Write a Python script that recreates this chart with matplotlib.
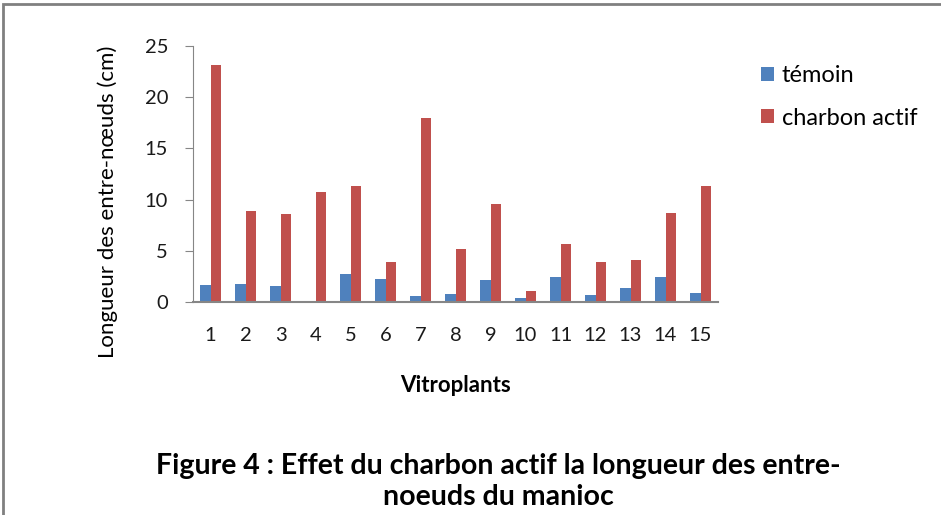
import numpy as np
import matplotlib.pyplot as plt
from matplotlib.patches import Rectangle

# Données
vitroplants = ['1', '2', '3', '4', '5', '6', '7', '8', '9', '10', '11', '12', '13', '14', '15']
temoin = [1.7, 1.8, 1.6, 0.0, 2.7, 2.2, 0.6, 0.8, 2.1, 0.4, 2.4, 0.7, 1.4, 2.4, 0.9]
charbon_actif = [23.1, 8.9, 8.6, 10.7, 11.3, 3.9, 18.0, 5.2, 9.6, 1.1, 5.7, 3.9, 4.1, 8.7, 11.3]

plt.rcParams['font.family'] = ['Lato', 'DejaVu Sans']

fig = plt.figure(figsize=(9.41, 5.15), dpi=100)
ax = fig.add_axes([193 / 941, 1 - 302 / 515, 525 / 941, 256 / 515])

x = np.arange(len(vitroplants))
w = 0.29
ax.bar(x - w / 2, temoin, w, color='#4f81bd', label='témoin')
ax.bar(x + w / 2, charbon_actif, w, color='#c0504d', label='charbon actif')

ax.set_xlim(-0.5, len(vitroplants) - 0.5)
ax.set_ylim(0, 25)
ax.set_yticks([0, 5, 10, 15, 20, 25])
ax.set_xticks(x)
ax.set_xticklabels(vitroplants)

for s in ['top', 'right']:
    ax.spines[s].set_visible(False)
ax.spines['left'].set_color('#868686')
ax.spines['bottom'].set_color('#868686')
ax.spines['bottom'].set_linewidth(1.5)
ax.tick_params(axis='y', length=6, color='#868686', pad=12, labelsize=14.5, labelcolor='#1a1a1a')
ax.tick_params(axis='x', length=0, pad=18, labelsize=14.5, labelcolor='#1a1a1a')

ax.set_xlabel('Vitroplants', fontsize=16, fontweight='bold', va='center')
ax.xaxis.set_label_coords((456 - 193) / 525, (302 - 386) / 256)
ax.set_ylabel('Longueur des entre-nœuds (cm)', fontsize=16, va='center')
ax.yaxis.set_label_coords((108 - 193) / 525, (302 - 202) / 256)

fig.legend(loc='upper left', bbox_to_anchor=(752 / 941, 1 - 56 / 515),
           frameon=False, fontsize=17, handlelength=0.55, handleheight=0.55,
           handletextpad=0.3, labelspacing=0.9, borderaxespad=0)

fig.text(498 / 941, 1 - 466 / 515, 'Figure 4 : Effet du charbon actif la longueur des entre-',
         ha='center', va='center', fontsize=20.5, fontweight='bold')
fig.text(498 / 941, 1 - 497 / 515, 'noeuds du manioc',
         ha='center', va='center', fontsize=20.5, fontweight='bold')

# cadre gris en haut et à gauche
fig.patches.append(Rectangle((3 / 941, -0.1), 1.1, 1.1 - 4 / 515, transform=fig.transFigure,
                             fill=False, edgecolor='#808080', linewidth=2))

fig.savefig('out.png', dpi=100)
